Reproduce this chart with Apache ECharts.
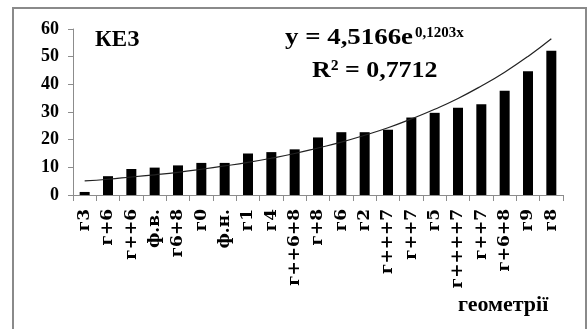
<!DOCTYPE html>
<html>
<head>
<meta charset="utf-8">
<script src="https://cdn.jsdelivr.net/npm/echarts@6/dist/echarts.min.js"></script>
<style>
html,body{margin:0;padding:0;background:#fff;}
#chart{width:588px;height:329px;}
</style>
</head>
<body>
<div id="chart"></div>
<script>
var categories = ['г3','г+6','г++6','ф.в.','г6+8','г0','ф.н.','г1','г4','г++6+8','г+8','г6','г2','г+++7','г++7','г5','г++++7','г++7','г+6+8','г9','г8'];
var barValues = [1.1, 6.8, 9.4, 9.9, 10.7, 11.6, 11.6, 15.0, 15.5, 16.5, 20.8, 22.7, 22.7, 23.6, 28.0, 29.7, 31.5, 32.8, 37.7, 44.7, 52.1];
var trendValues = [5.1, 5.7, 6.5, 7.3, 8.2, 9.3, 10.5, 11.8, 13.3, 15.0, 17.0, 19.1, 21.6, 24.3, 27.5, 31.0, 34.9, 39.4, 44.4, 50.1, 56.5];
var yTicks = {min: 0, max: 60, interval: 10};

var chart = echarts.init(document.getElementById('chart'));
var serif = 'Liberation Serif';
chart.setOption({
  animation: false,
  backgroundColor: '#fff',
  grid: {left: 73, right: 25, top: 29, bottom: 134, containLabel: false},
  xAxis: {
    type: 'category',
    data: categories,
    boundaryGap: true,
    axisLine: {lineStyle: {color: '#8c8c8c', width: 1}},
    axisTick: {show: true, alignWithLabel: false, length: 6, lineStyle: {color: '#8c8c8c'}},
    axisLabel: {rotate: 90, interval: 0, margin: 14, color: '#000', fontFamily: 'DejaVu Serif', fontWeight: 'bold', fontSize: 17}
  },
  yAxis: {
    type: 'value',
    min: yTicks.min, max: yTicks.max, interval: yTicks.interval,
    splitLine: {show: false},
    axisLine: {show: true, lineStyle: {color: '#8c8c8c', width: 1}},
    axisTick: {show: true, length: 5, lineStyle: {color: '#8c8c8c'}},
    axisLabel: {color: '#000', fontFamily: serif, fontWeight: 'bold', fontSize: 18, margin: 14}
  },
  series: [
    {type: 'bar', data: barValues, barWidth: 10, itemStyle: {color: '#000'}},
    {type: 'line', data: trendValues, smooth: true, symbol: 'none', lineStyle: {color: '#222', width: 1.2}, z: 5}
  ],
  graphic: [
    {type: 'rect', shape: {x: 13, y: 8, width: 573, height: 330}, style: {fill: 'none', stroke: '#8a8a8a', lineWidth: 2}, silent: true},
    {type: 'text', x: 95, y: 29, style: {text: 'КЕЗ', font: 'bold 23px "Liberation Serif"', fill: '#000', verticalAlign: 'top'}},
    {type: 'text', x: 285, y: 26, scaleX: 1.12, style: {text: 'y = 4,5166e', font: 'bold 24px "Liberation Serif"', fill: '#000', verticalAlign: 'top'}},
    {type: 'text', x: 415, y: 26, style: {text: '0,1203x', font: 'bold 15px "Liberation Serif"', fill: '#000', verticalAlign: 'top'}},
    {type: 'text', x: 312, y: 59, scaleX: 1.08, style: {text: 'R² = 0,7712', font: 'bold 24px "Liberation Serif"', fill: '#000', verticalAlign: 'top'}},
    {type: 'text', x: 458, y: 294, style: {text: 'геометрії', font: 'bold 22px "Liberation Serif"', fill: '#000', verticalAlign: 'top'}}
  ]
});
</script>
</body>
</html>
